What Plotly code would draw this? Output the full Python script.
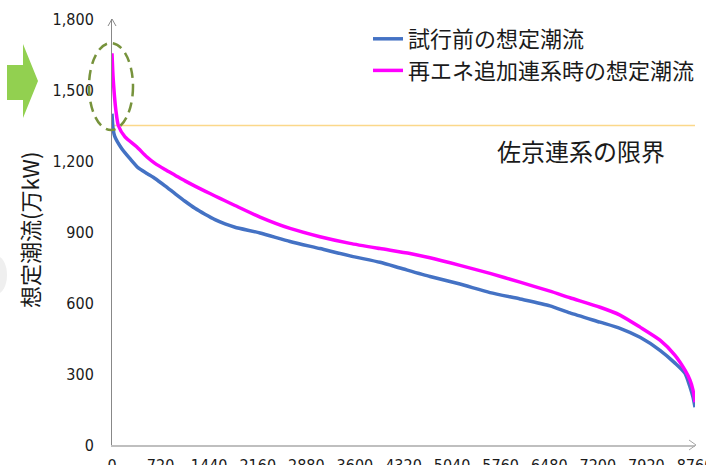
import plotly.graph_objects as go

# Annual load-duration curves (hours sorted by flow, 0-8760 h), values in 万kW
hours_before = [0, 15, 40, 145, 270, 391, 526, 646, 796, 947, 1097, 1247, 1397, 1548,
                1698, 1848, 2224, 2675, 3125, 3576, 4027, 4328, 4778, 5229, 5680,
                6131, 6581, 6882, 7333, 7633, 7934, 8234, 8460, 8610, 8685, 8730, 8760]
flow_before = [1400, 1340, 1305, 1253, 1210, 1172, 1147, 1126, 1095, 1062, 1030, 1000,
               975, 952, 934, 920, 896, 860, 830, 799, 772, 748, 712, 680, 644,
               617, 588, 558, 519, 493, 455, 400, 346, 303, 245, 202, 160]

hours_after = [0, 15, 35, 60, 95, 195, 371, 521, 646, 796, 947, 1097, 1247, 1397, 1548,
               1698, 1848, 2224, 2675, 3125, 3576, 4027, 4478, 4778, 5229, 5680, 6131,
               6581, 6882, 7333, 7633, 7934, 8234, 8460, 8610, 8685, 8730, 8760]
flow_after = [1655, 1560, 1480, 1410, 1350, 1302, 1260, 1218, 1190, 1164, 1140, 1116,
              1094, 1073, 1052, 1032, 1012, 963, 915, 880, 852, 830, 809, 791, 759,
              725, 688, 650, 622, 582, 549, 498, 443, 379, 316, 274, 232, 181]

limit_value = 1350  # 佐京連系の限界

series_names = ["試行前の想定潮流", "再エネ追加連系時の想定潮流"]
x_tick_labels = ["0", "720", "1440", "2160", "2880", "3600", "4320",
                 "5040", "5760", "6480", "7200", "7920", "8760"]
y_tick_values = [0, 300, 600, 900, 1200, 1500, 1800]

W, H = 706, 465
ML, MR, MT, MB = 112, 11, 19, 20
PW, PH = W - ML - MR, H - MT - MB


def px(x):
    return (x - ML) / PW


def py(y):
    return (H - MB - y) / PH


JP = "Noto Sans CJK JP"
NUM = "DejaVu Sans Condensed, DejaVu Sans"

fig = go.Figure()
fig.add_trace(go.Scatter(x=hours_before, y=flow_before, mode="lines",
                         name=series_names[0],
                         line=dict(color="#4472C4", width=3.5,
                                   shape="spline", smoothing=0.6)))
fig.add_trace(go.Scatter(x=hours_after, y=flow_after, mode="lines",
                         name=series_names[1],
                         line=dict(color="#FF00FF", width=3.5,
                                   shape="spline", smoothing=0.6)))

n = len(x_tick_labels) - 1
tick_pos = [i * 8760 / n for i in range(n + 1)]

shapes = [
    # transfer limit
    dict(type="line", xref="x", yref="y", x0=0, x1=8760, y0=limit_value, y1=limit_value,
         line=dict(color="#FBD88A", width=1.5), layer="below"),
    # y-axis arrowhead
    dict(type="path", xref="paper", yref="paper",
         path=f"M {px(108)},{py(26)} L {px(112)},{py(19)} L {px(116)},{py(26)}",
         line=dict(color="#888888", width=1)),
    # x-axis arrowhead
    dict(type="path", xref="paper", yref="paper",
         path=f"M {px(689)},{py(440)} L {px(696)},{py(445)} L {px(689)},{py(450)}",
         line=dict(color="#A6A6A6", width=1)),
    # dashed highlight around the peak
    dict(type="circle", xref="paper", yref="paper",
         x0=px(89), x1=px(133), y0=py(130), y1=py(43),
         line=dict(color="#77933C", width=2.5, dash="10px,6px")),
    # green pointer arrow
    dict(type="path", xref="paper", yref="paper",
         path=(f"M {px(7)},{py(65)} L {px(23)},{py(65)} L {px(23)},{py(44)} "
               f"L {px(38)},{py(81)} L {px(23)},{py(118)} L {px(23)},{py(100)} "
               f"L {px(7)},{py(100)} Z"),
         fillcolor="#92D050", line=dict(width=0)),
    # faint grey blob at the left edge
    dict(type="circle", xref="paper", yref="paper",
         x0=px(-14), x1=px(7), y0=py(294), y1=py(256),
         fillcolor="#EFEFEF", line=dict(width=0), layer="below"),
]

annotations = [
    dict(text="佐京連系の限界", xref="paper", yref="paper",
         x=px(581), y=py(150), xanchor="center", yanchor="middle", showarrow=False,
         font=dict(family=JP, size=24, color="#1A1A1A")),
    dict(text="想定潮流(万kW)", xref="paper", yref="paper",
         x=px(29), y=py(230), xanchor="center", yanchor="middle",
         showarrow=False, textangle=-90,
         font=dict(family=JP, size=22, color="#1A1A1A")),
]

fig.update_layout(
    width=W, height=H,
    margin=dict(l=ML, r=MR, t=MT, b=MB, autoexpand=False),
    paper_bgcolor="white", plot_bgcolor="white",
    showlegend=True,
    legend=dict(x=px(368), y=py(18), xanchor="left", yanchor="top",
                font=dict(family=JP, size=22, color="#1A1A1A"),
                bgcolor="rgba(0,0,0,0)", borderwidth=0, tracegroupgap=0),
    shapes=shapes,
    annotations=annotations,
    xaxis=dict(range=[0, 8760], tickvals=tick_pos, ticktext=x_tick_labels,
               showgrid=False, zeroline=False, showline=True, automargin=False,
               linecolor="#BFBFBF", linewidth=2, ticks="",
               ticklabelstandoff=5, ticklabeloverflow="allow",
               tickfont=dict(family=NUM, size=16, color="#1A1A1A")),
    yaxis=dict(range=[0, 1800], tickvals=y_tick_values, tickformat=",",
               showgrid=False, zeroline=False, showline=True, automargin=False,
               linecolor="#888888", linewidth=1, ticks="",
               ticklabelstandoff=14,
               tickfont=dict(family=NUM, size=16, color="#1A1A1A")),
)

fig.write_html("out.html")
